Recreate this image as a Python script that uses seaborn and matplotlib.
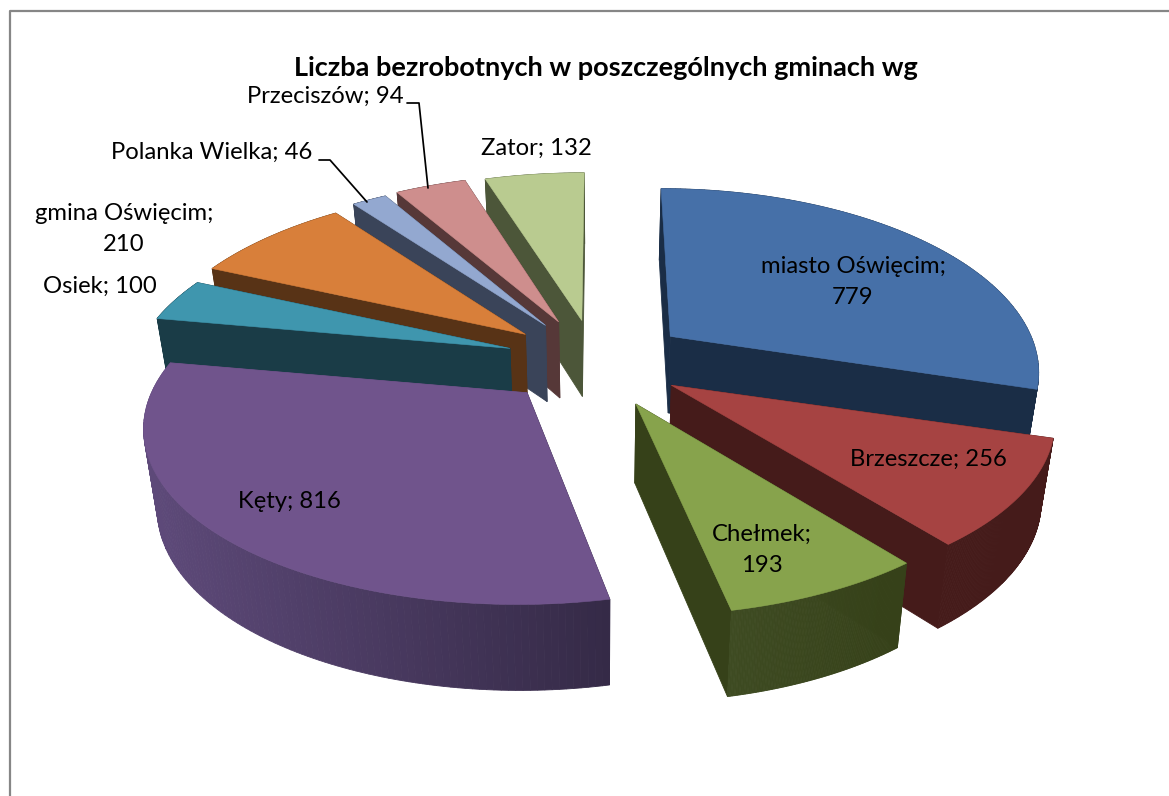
import numpy as np
import pandas as pd
import matplotlib
matplotlib.use('Agg')
import matplotlib.pyplot as plt
import seaborn as sns

# Data
gminy = ['miasto Oświęcim', 'Brzeszcze', 'Chełmek', 'Kęty', 'Osiek',
         'gmina Oświęcim', 'Polanka Wielka', 'Przeciszów', 'Zator']
bezrobotni = [779, 256, 193, 816, 100, 210, 46, 94, 132]
etykiety = ['miasto Oświęcim;\n779', 'Brzeszcze; 256', 'Chełmek;\n193', 'Kęty; 816', 'Osiek; 100',
            'gmina Oświęcim;\n210', 'Polanka Wielka; 46', 'Przeciszów; 94', 'Zator; 132']
tytul = 'Liczba bezrobotnych w poszczególnych gminach wg'

# Colours
top_colors = ['#4670A8', '#A64342', '#87A34C', '#70548C', '#3F96AE',
              '#D87F3A', '#93A8D0', '#CE8E8D', '#B9CB90']
side_left = ['#1A2D46', '#451B1A', '#3E4B22', '#5E4A7A', '#1A3C47',
             '#583316', '#3A4459', '#563838', '#4C5639']
side_right = ['#1A2D46', '#451B1A', '#364119', '#352A47', '#1A3C47',
              '#583316', '#3A4459', '#563838', '#4C5639']

# Label centres in pixels
label_x = [853, 928, 762, 289, 100, 124, 212, 325, 536]
label_y = [282, 459, 550, 502, 286, 229, 152, 96, 148]

# Pie geometry in pixels, with small per-slice corrections
CX, CY = 596, 361
EXPLODE_X, EXPLODE_Y = 90, 43
RX, RY, PERSP = 372, 174, 0.178
SHEAR = 0.13
nudge_x = [2, 1, 2, -6, 0, 0, 0, 0, 0]
nudge_y = [1, 0, 4, 1, 0, 0, 0, 0, 2]
skala = [0.97, 1.01, 1.0, 1.01, 1.0, 1.0, 1.0, 1.0, 1.0]

sns.set_theme(style='white')
plt.rcParams['font.family'] = ['Lato', 'DejaVu Sans']

df = pd.DataFrame({'gmina': gminy, 'n': bezrobotni, 'label': etykiety,
                   'top': top_colors, 'left': side_left, 'right': side_right,
                   'lx': label_x, 'ly': label_y,
                   'nx': nudge_x, 'ny': nudge_y, 'skala': skala})
df['frac'] = df['n'] / df['n'].sum()
df['start'] = df['frac'].cumsum().shift(fill_value=0) * 2 * np.pi
df['end'] = df['frac'].cumsum() * 2 * np.pi
df['mid'] = (df['start'] + df['end']) / 2


def project(ax0, ay0, ang, k):
    # ang is clockwise from 12 o'clock, v > 0 is towards the viewer
    u, v = np.sin(ang), -np.cos(ang)
    s = 1 / (1 - PERSP * v)
    return ax0 + k * RX * u * s + (ax0 - 600) * SHEAR * v, ay0 + RY * v * s


def extrude(x, y):
    depth = 76 + (np.asarray(y) - 320) * 0.035
    return 600 + (np.asarray(x) - 600) * 0.97, np.asarray(y) + depth


def draw_slice(ax, row):
    ax0 = CX + EXPLODE_X * np.sin(row.mid) + row.nx
    ay0 = CY - EXPLODE_Y * np.cos(row.mid) + row.ny
    ang = np.linspace(row.start, row.end, 120)
    x, y = project(ax0, ay0, ang, row.skala)
    bx, by = extrude(x, y)
    apex_bx, apex_by = extrude(ax0, ay0)

    # walls and outer side, back to front
    faces = []
    for xs, ys, bxs, bys in [(x[0], y[0], bx[0], by[0]), (x[-1], y[-1], bx[-1], by[-1])]:
        quad = [(ax0, ay0), (xs, ys), (bxs, bys), (apex_bx, apex_by)]
        faces.append(((ay0 + ys) / 2, quad, row.left if xs < ax0 else row.right))
    base_l = np.array(matplotlib.colors.to_rgb(row.left))
    base_r = np.array(matplotlib.colors.to_rgb(row.right))
    lo, hi = x.min(), x.max()
    for i in range(len(ang) - 1):
        t = (x[i] - lo) / max(hi - lo, 1)
        col = base_l + (base_r - base_l) * t
        quad = [(x[i], y[i]), (x[i + 1], y[i + 1]), (bx[i + 1], by[i + 1]), (bx[i], by[i])]
        faces.append(((y[i] + y[i + 1]) / 2, quad, col))
    for _, quad, col in sorted(faces, key=lambda f: f[0]):
        ax.fill(*zip(*quad), color=col, lw=0.6, zorder=2)

    ax.fill(np.r_[ax0, x], np.r_[ay0, y], color=row.top, lw=0.4, zorder=2)


fig = plt.figure(figsize=(11.69, 7.96), dpi=100)
ax = fig.add_axes([0, 0, 1, 1])
ax.set_xlim(0, 1169)
ax.set_ylim(796, 0)
ax.axis('off')

# Frame (only left and top fall inside the picture)
ax.plot([9.5, 9.5, 1169], [796, 11, 11], color='#868686', lw=1.6, zorder=1)

# Back slices first
order = df.assign(depth=-np.cos(df['mid'])).sort_values('depth')
for row in order.itertuples():
    draw_slice(ax, row)

# Leader lines
ax.plot([319, 330, 367], [160, 160, 202], color='black', lw=1.25, zorder=3)
ax.plot([407, 419, 428], [103, 103, 188], color='black', lw=1.25, zorder=3)

for row in df.itertuples():
    ax.text(row.lx, row.ly, row.label, ha='center', va='center', fontsize=17.2,
            color='black', linespacing=1.6, zorder=4)

ax.text(606, 68, tytul, ha='center', va='center', fontsize=19.5, fontweight='bold', color='black')

fig.savefig('out.png', dpi=100)
